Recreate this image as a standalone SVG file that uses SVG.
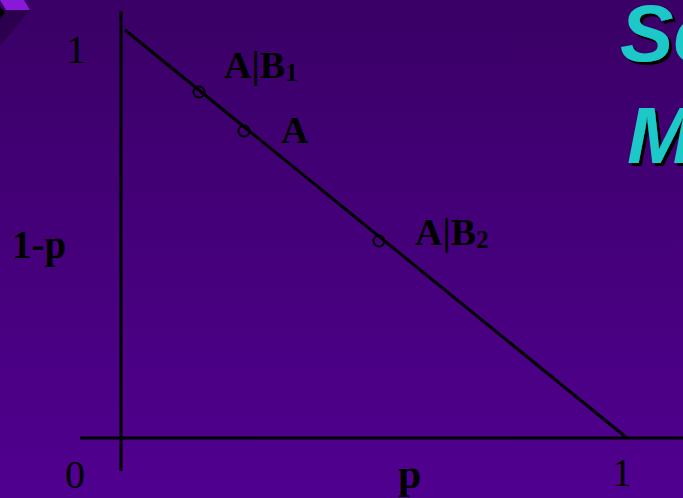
<svg xmlns="http://www.w3.org/2000/svg" width="683" height="498" viewBox="0 0 683 498">
<defs>
<linearGradient id="bg" x1="0" y1="0" x2="0" y2="1">
<stop offset="0" stop-color="#3a0066"/>
<stop offset="1" stop-color="#50008f"/>
</linearGradient>
<filter id="sh" x="-10%" y="-10%" width="130%" height="130%">
<feDropShadow dx="3" dy="3" stdDeviation="0" flood-color="#000"/>
</filter>
</defs>
<style>
.ln{stroke:#000;stroke-width:3;fill:none}
.pt{stroke:#000;stroke-width:2;fill:none}
.t{font-family:"Liberation Serif",serif;fill:#000}
.b{font-weight:bold}
.ttl{font-family:"Liberation Sans",Arial,sans-serif;font-weight:bold;font-style:italic;font-size:80px;fill:#1ec8c8;filter:url(#sh)}
</style>
<rect width="683" height="498" fill="url(#bg)"/>
<g id="corner">
<polygon points="0,10 30,10 0,46" fill="#2c004e"/>
<polygon points="0,0 24,0 30,10 6,10" fill="#8a18d8"/>
<polygon points="0,6 5,13 0,19" fill="#000"/>
</g>
<g id="title">
<text class="ttl" x="620" y="61">Se</text>
<text class="ttl" x="627" y="163">M</text>
</g>
<g id="connectors">
<line class="ln" x1="121" y1="11" x2="121" y2="471"/>
<line class="ln" x1="80" y1="438" x2="683" y2="438"/>
<line class="ln" x1="125" y1="30" x2="627" y2="438" stroke-width="2.2"/>
</g>
<g id="points">
<circle class="pt" cx="199" cy="92" r="5.5"/>
<circle class="pt" cx="244" cy="131" r="5.5"/>
<circle class="pt" cx="379" cy="241" r="5.5"/>
</g>
<g id="labels">
<text class="t" x="66" y="63" font-size="40">1</text>
<text class="t b" x="224" y="78" font-size="38">A|B<tspan font-size="25" dy="3">1</tspan></text>
<text class="t b" x="281" y="143" font-size="38">A</text>
<text class="t b" x="415" y="245" font-size="38">A|B<tspan font-size="25" dy="3">2</tspan></text>
<text class="t b" x="12" y="258" font-size="39">1-p</text>
<text class="t" x="65" y="488" font-size="40">0</text>
<text class="t b" x="398" y="488" font-size="42">p</text>
<text class="t" x="612" y="486" font-size="40">1</text>
</g>
</svg>
